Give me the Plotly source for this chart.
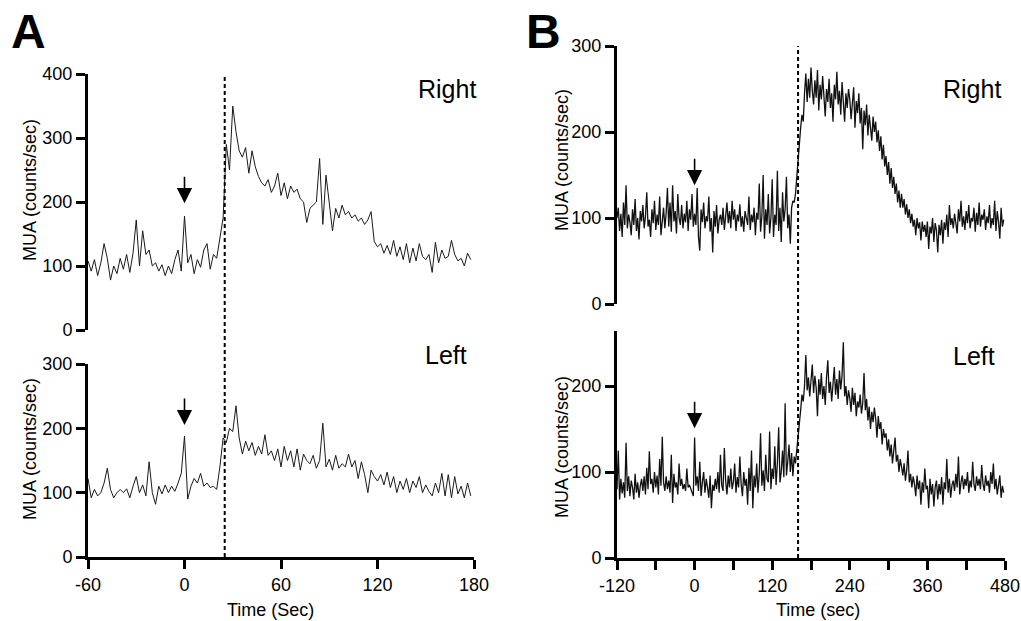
import plotly.graph_objects as go

W, H = 1021, 621
FONT = "Liberation Sans, Arial, sans-serif"

# sample times (s)
t_a = list(range(-60, 180, 2))
t_b = list(range(-120, 480, 2))

# panel A, MUA counts/sec
a_right = [
    108, 92, 110, 85, 105, 135, 112, 78, 100, 88,
    112, 95, 118, 90, 120, 172, 100, 155, 118, 125,
    100, 105, 92, 102, 85, 100, 88, 110, 125, 92,
    178, 105, 118, 88, 110, 98, 125, 135, 95, 118,
    112, 145, 175, 290, 250, 350, 310, 280, 270, 285,
    245, 280, 255, 240, 230, 225, 235, 215, 225, 245,
    210, 230, 205, 225, 215, 220, 205, 200, 168, 190,
    195, 200, 268, 165, 242, 195, 155, 190, 175, 195,
    180, 185, 175, 180, 170, 175, 165, 172, 185, 138,
    130, 135, 120, 132, 118, 140, 115, 130, 110, 135,
    105, 128, 108, 135, 115, 110, 118, 90, 137, 105,
    125, 112, 115, 140, 118, 108, 112, 100, 120, 110,
]
a_left = [
    122, 92, 105, 95, 100, 115, 138, 105, 92, 100,
    105, 100, 106, 92, 110, 125, 100, 112, 95, 148,
    100, 82, 110, 98, 112, 100, 110, 102, 115, 130,
    188, 90, 110, 122, 115, 130, 110, 115, 108, 110,
    105, 140, 185, 178, 200, 195, 235, 185, 160, 180,
    165, 178, 158, 172, 160, 190, 158, 165, 150, 168,
    140, 172, 150, 165, 140, 168, 135, 160, 150, 145,
    158, 138, 150, 208, 140, 152, 135, 158, 138, 145,
    140, 160, 140, 150, 122, 148, 128, 100, 135, 125,
    118, 128, 112, 132, 108, 125, 100, 118, 105, 122,
    100, 118, 108, 125, 100, 112, 102, 95, 115, 100,
    130, 95, 128, 92, 125, 98, 110, 92, 115, 95,
]

# panel B, MUA counts/sec
b_right = [
    100, 112, 85, 105, 78, 118, 92, 138, 88, 104,
    95, 80, 110, 92, 122, 85, 100, 75, 108, 96,
    115, 88, 102, 130, 90, 98, 78, 110, 94, 120,
    86, 104, 92, 125, 80, 100, 112, 88, 106, 135,
    90, 118, 84, 138, 96, 108, 82, 128, 100, 92,
    115, 88, 105, 95, 120, 85, 110, 98, 128, 90,
    105, 92, 135, 78, 62, 110, 95, 118, 88, 102,
    96, 125, 84, 100, 60, 108, 90, 115, 82, 98,
    104, 92, 112, 86, 100, 118, 94, 108, 88, 120,
    98, 110, 85, 104, 96, 116, 90, 102, 84, 108,
    100, 92, 125, 86, 104, 95, 112, 80, 106, 98,
    140, 84, 102, 150, 76, 110, 92, 128, 82, 100,
    145, 78, 104, 92, 155, 85, 112, 72, 130, 96,
    110, 148, 88, 104, 70, 112, 120, 118, 128, 150,
    170, 185, 205, 220, 212, 245, 268, 235, 262, 240,
    275, 248, 232, 260, 240, 272, 225, 255, 238, 265,
    242, 218, 250, 235, 262, 228, 245, 212, 255, 238,
    270, 232, 248, 220, 258, 236, 212, 245, 228, 250,
    238, 215, 232, 252, 205, 236, 222, 245, 210, 228,
    180, 225, 208, 232, 196, 220, 205, 190, 218, 200,
    212, 188, 202, 178, 195, 168, 185, 160, 172, 150,
    165, 140, 158, 135, 148, 128, 140, 118, 132, 112,
    128, 112, 122, 104, 116, 100, 110, 94, 105, 90,
    98, 80, 100, 88, 95, 74, 96, 84, 92, 78,
    96, 64, 90, 82, 100, 72, 94, 86, 60, 92,
    80, 98, 70, 95, 86, 104, 78, 115, 92, 100,
    88, 105, 94, 82, 110, 96, 120, 90, 102, 86,
    108, 94, 115, 88, 100, 96, 112, 84, 106, 92,
    118, 90, 104, 98, 110, 86, 102, 94, 115, 88,
    100, 92, 120, 85, 108, 96, 76, 112, 90, 98,
]
b_left = [
    80, 125, 68, 92, 75, 88, 70, 134, 78, 95,
    72, 90, 82, 68, 98, 76, 88, 70, 84, 92,
    78, 95, 74, 105, 80, 124, 86, 92, 76, 100,
    82, 96, 74, 115, 84, 141, 88, 78, 95, 80,
    90, 76, 120, 64, 98, 82, 88, 74, 110, 84,
    92, 80, 86, 78, 104, 82, 85, 80, 76, 72,
    140, 84, 95, 78, 112, 72, 88, 100, 76, 92,
    82, 70, 96, 58, 85, 78, 92, 80, 100, 76,
    120, 84, 78, 128, 90, 74, 96, 82, 104, 80,
    88, 110, 76, 94, 82, 118, 86, 72, 100, 84,
    92, 62, 105, 78, 125, 58, 96, 82, 110, 76,
    98, 145, 84, 102, 78, 120, 92, 88, 147, 80,
    104, 92, 130, 85, 110, 152, 88, 100, 125, 94,
    180, 96, 112, 132, 100, 122, 95, 118, 110, 125,
    135, 150, 172, 190, 182, 200, 236, 195, 210, 188,
    205, 225, 192, 212, 198, 165, 208, 190, 215, 185,
    200, 178, 210, 230, 192, 205, 182, 198, 222, 190,
    208, 185, 218, 196, 212, 251, 188, 200, 178, 195,
    186, 170, 198, 178, 192, 165, 182, 175, 190, 168,
    180, 215, 172, 185, 160, 176, 150, 170, 158, 175,
    162, 140, 165, 150, 158, 132, 150, 140, 145, 125,
    138, 118, 132, 110, 126, 140, 112, 120, 100, 115,
    106, 96, 110, 90, 102, 125, 88, 98, 82, 95,
    86, 72, 96, 80, 90, 62, 88, 76, 104, 80,
    84, 58, 92, 74, 86, 60, 82, 90, 68, 86,
    74, 94, 62, 88, 80, 115, 76, 92, 70, 85,
    90, 78, 98, 82, 118, 74, 88, 96, 80, 92,
    84, 100, 76, 90, 82, 112, 86, 78, 95, 84,
    92, 80, 108, 86, 78, 96, 84, 90, 76, 100,
    86, 110, 80, 92, 74, 88, 96, 70, 84, 76,
]

a_xticks = [-60, 0, 60, 120, 180]
a_xlabels = ["-60", "0", "60", "120", "180"]
b_xticks = [-120, -60, 0, 60, 120, 180, 240, 300, 360, 420, 480]
b_xlabels = ["-120", "", "0", "", "120", "", "240", "", "360", "", "480"]
stim_a, stim_b = 25, 160


def fx(p):
    return p / W


def fy(p):
    return 1 - p / H


def xdom(p0, p1):
    return [fx(p0), fx(p1)]


def ydom(top, bottom):
    return [fy(bottom), fy(top)]


axis_style = dict(
    showline=True, linecolor="black", linewidth=3,
    ticks="outside", ticklen=9, tickwidth=2.5, tickcolor="black",
    showgrid=False, zeroline=False, automargin=False,
    tickfont=dict(family=FONT, size=18, color="black"),
)
hidden = dict(visible=False, automargin=False)

fig = go.Figure()
line_a = dict(color="#1a1a1a", width=1)
line_b = dict(color="#111111", width=1.3)
fig.add_trace(go.Scatter(x=t_a, y=a_right, xaxis="x3", yaxis="y", mode="lines", line=line_a))
fig.add_trace(go.Scatter(x=t_a, y=a_left, xaxis="x", yaxis="y2", mode="lines", line=line_a))
fig.add_trace(go.Scatter(x=t_b, y=b_right, xaxis="x4", yaxis="y3", mode="lines", line=line_b))
fig.add_trace(go.Scatter(x=t_b, y=b_left, xaxis="x2", yaxis="y4", mode="lines", line=line_b))

fig.update_layout(
    width=W, height=H, margin=dict(l=0, r=0, t=0, b=0, pad=0),
    paper_bgcolor="white", plot_bgcolor="white", showlegend=False,
    xaxis=dict(axis_style, domain=xdom(88, 474), range=[-60, 180], anchor="y2",
               tickvals=a_xticks, ticktext=a_xlabels),
    xaxis3=dict(hidden, domain=xdom(88, 474), range=[-60, 180], anchor="y"),
    yaxis=dict(axis_style, domain=ydom(74, 330), range=[0, 400], anchor="x3",
               tickvals=[0, 100, 200, 300, 400]),
    yaxis2=dict(axis_style, domain=ydom(364, 557), range=[0, 300], anchor="x",
                tickvals=[0, 100, 200, 300]),
    xaxis2=dict(axis_style, domain=xdom(617, 1005), range=[-120, 480], anchor="y4",
                tickvals=b_xticks, ticktext=b_xlabels),
    xaxis4=dict(hidden, domain=xdom(617, 1005), range=[-120, 480], anchor="y3"),
    yaxis3=dict(axis_style, domain=ydom(46, 304), range=[0, 300], anchor="x4",
                tickvals=[0, 100, 200, 300]),
    yaxis4=dict(axis_style, domain=ydom(331, 558), range=[0, 264], anchor="x2",
                tickvals=[0, 100, 200]),
)

# stimulus onset lines
dash = dict(color="black", width=2, dash="4px,3px")
fig.add_shape(type="line", xref="x", yref="paper", x0=stim_a, x1=stim_a,
              y0=fy(557), y1=fy(74), line=dash)
fig.add_shape(type="line", xref="x2", yref="paper", x0=stim_b, x1=stim_b,
              y0=fy(558), y1=fy(46), line=dash)

# injection arrows at t = 0
for xr, yr, tip in [("x3", "y", 198), ("x", "y2", 205), ("x4", "y3", 138), ("x2", "y4", 151)]:
    fig.add_annotation(x=0, y=tip, xref=xr, yref=yr, ax=0, ay=-28, text="",
                       showarrow=True, arrowhead=2, arrowsize=1.9, arrowwidth=1.6,
                       arrowcolor="black", standoff=0)


def paper_text(text, x, y, size, bold=False, angle=0):
    fig.add_annotation(
        text=f"<b>{text}</b>" if bold else text,
        x=fx(x), y=fy(y), xref="paper", yref="paper",
        showarrow=False, textangle=angle, xanchor="center", yanchor="middle",
        font=dict(family=FONT, size=size, color="black"),
    )


paper_text("A", 28, 31, 48, bold=True)
paper_text("B", 543, 31, 48, bold=True)
paper_text("Right", 447, 89, 25)
paper_text("Left", 446, 355, 25)
paper_text("Right", 972, 89, 25)
paper_text("Left", 974, 356, 25)
paper_text("MUA (counts/sec)", 30, 190, 18, angle=-90)
paper_text("MUA (counts/sec)", 30, 449, 18, angle=-90)
paper_text("MUA (counts/sec)", 562, 160, 18, angle=-90)
paper_text("MUA (counts/sec)", 562, 447, 18, angle=-90)
paper_text("Time (Sec)", 270, 610, 18)
paper_text("Time (sec)", 818, 610, 18)

# drop the default body margin so the 1021x621 figure fills the window exactly
fig.write_html("out.html", config={"displayModeBar": False},
               post_script="document.body.style.margin = '0';")
